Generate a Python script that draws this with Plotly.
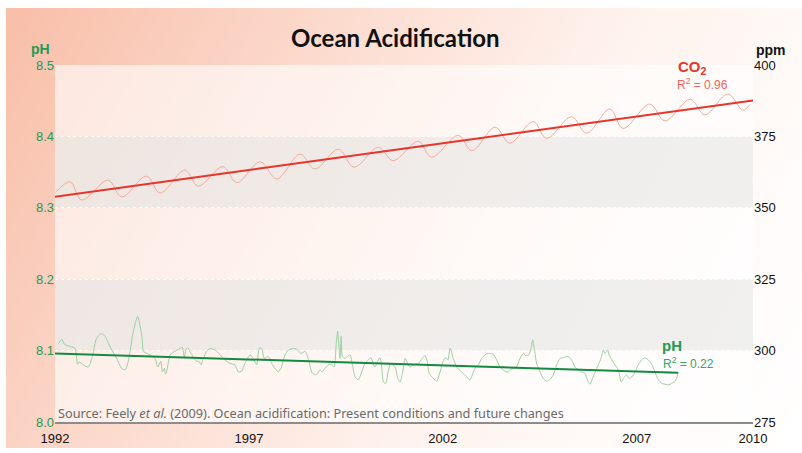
import base64
import plotly.graph_objects as go

# ---------------- data ----------------
co2_years = [1992.03, 1992.39, 1992.69, 1993.37, 1993.72, 1994.36, 1994.71, 1995.35, 1995.69,
             1996.33, 1996.69, 1997.29, 1997.72, 1998.32, 1998.70, 1999.31, 1999.71, 2000.34,
             2000.72, 2001.37, 2001.71, 2002.40, 2002.75, 2003.35, 2003.73, 2004.33, 2004.68,
             2005.32, 2005.71, 2006.31, 2006.65, 2007.34, 2007.73, 2008.38, 2008.76, 2009.35,
             2009.74, 2009.92]
co2_ppm = [355.6, 359.1, 352.7, 359.7, 353.8, 361.1, 355.2, 363.2, 357.6,
           364.4, 358.8, 366.1, 360.1, 368.8, 363.6, 370.5, 364.2, 371.2,
           366.5, 373.3, 367.7, 375.4, 370.0, 378.2, 372.6, 380.2, 374.3,
           381.9, 376.1, 384.6, 377.8, 386.3, 380.4, 388.0, 382.5, 389.9,
           384.2, 386.2]
co2_trend_years = [1992.0, 2010.0]
co2_trend_ppm = [353.9, 387.6]

ph_years = [1992.09, 1992.17, 1992.24, 1992.39, 1992.52, 1992.58, 1992.62, 1992.73, 1992.86, 1992.95,
            1993.07, 1993.19, 1993.29, 1993.46, 1993.59, 1993.72, 1993.81, 1993.89, 1994.02, 1994.13,
            1994.22, 1994.25, 1994.28, 1994.45, 1994.58, 1994.65, 1994.73, 1994.77, 1994.82, 1994.85,
            1994.89, 1994.97, 1995.09, 1995.22, 1995.28, 1995.34, 1995.37, 1995.42, 1995.51, 1995.59,
            1995.65, 1995.71, 1995.77, 1995.80, 1995.91, 1996.00, 1996.13, 1996.26, 1996.38, 1996.51,
            1996.64, 1996.73, 1996.81, 1996.90, 1997.03, 1997.11, 1997.20, 1997.27, 1997.33, 1997.40,
            1997.50, 1997.59, 1997.67, 1997.76, 1997.84, 1997.93, 1998.02, 1998.15, 1998.23, 1998.34,
            1998.45, 1998.53, 1998.62, 1998.70, 1998.77, 1998.83, 1998.89, 1998.96, 1999.05, 1999.13,
            1999.20, 1999.25, 1999.29, 1999.32, 1999.35, 1999.38, 1999.41, 1999.48, 1999.55, 1999.61,
            1999.67, 1999.74, 1999.82, 1999.91, 1999.99, 2000.08, 2000.15, 2000.21, 2000.25, 2000.32,
            2000.38, 2000.42, 2000.47, 2000.53, 2000.60, 2000.66, 2000.77, 2000.84, 2000.90, 2000.96,
            2001.03, 2001.09, 2001.15, 2001.24, 2001.37, 2001.47, 2001.54, 2001.60, 2001.65, 2001.76,
            2001.84, 2001.93, 2002.01, 2002.07, 2002.13, 2002.19, 2002.27, 2002.36, 2002.49, 2002.62,
            2002.70, 2002.79, 2002.85, 2002.92, 2003.00, 2003.09, 2003.17, 2003.30, 2003.39, 2003.48,
            2003.60, 2003.69, 2003.78, 2003.90, 2003.99, 2004.08, 2004.14, 2004.22, 2004.275, 2004.32,
            2004.36, 2004.42, 2004.51, 2004.59, 2004.68, 2004.77, 2004.85, 2004.94, 2005.02, 2005.11,
            2005.19, 2005.28, 2005.34, 2005.41, 2005.50, 2005.58, 2005.67, 2005.75, 2005.80, 2005.86,
            2005.93, 2006.01, 2006.08, 2006.14, 2006.18, 2006.25, 2006.29, 2006.36, 2006.44, 2006.53,
            2006.60, 2006.66, 2006.74, 2006.80, 2006.87, 2006.96, 2007.04, 2007.13, 2007.21, 2007.30,
            2007.39, 2007.47, 2007.56, 2007.65, 2007.73, 2007.82, 2007.90, 2007.99, 2008.03, 2008.07]
ph_values = [8.110, 8.116, 8.109, 8.106, 8.103, 8.081, 8.084, 8.080, 8.077, 8.089,
             8.117, 8.124, 8.120, 8.101, 8.089, 8.075, 8.073, 8.085, 8.127, 8.148,
             8.127, 8.117, 8.099, 8.094, 8.089, 8.077, 8.085, 8.070, 8.075, 8.067,
             8.073, 8.094, 8.099, 8.103, 8.105, 8.089, 8.101, 8.104, 8.096, 8.089,
             8.085, 8.085, 8.080, 8.085, 8.099, 8.103, 8.101, 8.094, 8.087, 8.082,
             8.080, 8.070, 8.071, 8.082, 8.094, 8.089, 8.080, 8.104, 8.103, 8.089,
             8.092, 8.082, 8.075, 8.070, 8.077, 8.094, 8.101, 8.103, 8.102, 8.096,
             8.099, 8.089, 8.070, 8.066, 8.068, 8.073, 8.070, 8.075, 8.080, 8.081,
             8.077, 8.108, 8.127, 8.108, 8.089, 8.120, 8.092, 8.089, 8.092, 8.094,
             8.080, 8.063, 8.059, 8.070, 8.082, 8.087, 8.090, 8.080, 8.077, 8.085,
             8.090, 8.080, 8.056, 8.054, 8.073, 8.082, 8.077, 8.061, 8.056, 8.068,
             8.089, 8.082, 8.077, 8.080, 8.082, 8.089, 8.093, 8.085, 8.068, 8.061,
             8.057, 8.070, 8.085, 8.090, 8.087, 8.103, 8.089, 8.077, 8.070, 8.063,
             8.059, 8.070, 8.077, 8.080, 8.089, 8.094, 8.096, 8.095, 8.087, 8.077,
             8.071, 8.070, 8.075, 8.077, 8.089, 8.096, 8.093, 8.094, 8.103, 8.115,
             8.103, 8.082, 8.070, 8.061, 8.057, 8.060, 8.066, 8.080, 8.089, 8.090,
             8.092, 8.090, 8.085, 8.077, 8.073, 8.070, 8.068, 8.056, 8.053, 8.061,
             8.070, 8.080, 8.089, 8.101, 8.096, 8.101, 8.094, 8.087, 8.080, 8.073,
             8.056, 8.061, 8.066, 8.061, 8.063, 8.070, 8.080, 8.087, 8.090, 8.087,
             8.081, 8.070, 8.059, 8.054, 8.053, 8.052, 8.054, 8.057, 8.061, 8.070]
ph_trend_years = [1992.0, 2008.07]
ph_trend_values = [8.096, 8.069]

x_ticks = [1992, 1997, 2002, 2007, 2010]
ph_ticks = [8.0, 8.1, 8.2, 8.3, 8.4, 8.5]
ppm_ticks = [275, 300, 325, 350, 375, 400]

GREEN = "#239a52"
RED = "#e8342a"

fig = go.Figure()

fig.add_trace(go.Scatter(x=co2_years, y=co2_ppm, yaxis="y2", mode="lines",
                         line=dict(color="#f5ab9b", width=1, shape="spline", smoothing=1.0),
                         hoverinfo="skip", showlegend=False))
fig.add_trace(go.Scatter(x=co2_trend_years, y=co2_trend_ppm, yaxis="y2", mode="lines",
                         line=dict(color=RED, width=2), showlegend=False))
fig.add_trace(go.Scatter(x=ph_years, y=ph_values, mode="lines",
                         line=dict(color="#9ccfa2", width=1, shape="spline", smoothing=0.6),
                         showlegend=False))
fig.add_trace(go.Scatter(x=ph_trend_years, y=ph_trend_values, mode="lines",
                         line=dict(color="#138a40", width=2), showlegend=False))

W, H = 802, 453
# plot area in window pixels: x 55..753, y 65..422
WL, WR, WT, WB = 55, 753, 65, 422
pw, ph = WR - WL, WB - WT


def px_x(p):
    return (p - WL) / pw


def px_y(p):
    return (WB - p) / ph


# background gradient (diagonal, salmon -> white), panel from (6,8) to (802,448)
GX0, GY0, GX1, GY1 = 6, 8, 802, 448
gw, gh = GX1 - GX0, GY1 - GY0
svg = ('<svg xmlns="http://www.w3.org/2000/svg" width="%d" height="%d" viewBox="0 0 %d %d" '
       'preserveAspectRatio="none"><defs><linearGradient id="g" gradientUnits="userSpaceOnUse" '
       'x1="0" y1="0" x2="%d" y2="%d">'
       '<stop offset="0" stop-color="#f8bea8"/>'
       '<stop offset="0.25" stop-color="#fbd4c5"/>'
       '<stop offset="0.42" stop-color="#fde3d9"/>'
       '<stop offset="0.6" stop-color="#fef2ed"/>'
       '<stop offset="0.8" stop-color="#fffaf8"/>'
       '<stop offset="1" stop-color="#ffffff"/>'
       '</linearGradient></defs><rect x="0" y="0" width="%d" height="%d" fill="url(#g)"/></svg>'
       % (gw, gh, gw, gh, gw, gh, gw, gh))
src = "data:image/svg+xml;base64," + base64.b64encode(svg.encode()).decode()

fig.add_layout_image(dict(source=src, xref="paper", yref="paper",
                          x=px_x(GX0), y=px_y(GY0), sizex=gw / pw, sizey=gh / ph,
                          xanchor="left", yanchor="top", sizing="stretch", layer="below"))

# horizontal bands
for i in range(5):
    lo, hi = ph_ticks[i], ph_ticks[i + 1]
    if i % 2 == 0:
        fill = "rgba(255,255,255,0.6)"
    else:
        fill = "rgba(236,236,235,0.8)"
    fig.add_shape(type="rect", xref="paper", yref="y", x0=0, x1=1, y0=lo, y1=hi,
                  fillcolor=fill, line=dict(width=0), layer="below")


def label(text, x, y, size, color, family="Liberation Sans", xanchor="center"):
    return dict(text=text, xref="paper", yref="paper", x=px_x(x), y=px_y(y),
                xanchor=xanchor, yanchor="middle", showarrow=False,
                font=dict(family=family, size=size, color=color))


ann = [
    label("<b>Ocean Acidification</b>", 395, 37, 24, "#111111", family="Lato"),
    label("<b>pH</b>", 40, 49, 14, GREEN),
    label("<b>ppm</b>", 771, 50, 14, "#111111"),
    label("<b>CO<sub>2</sub></b>", 692, 68, 15, RED),
    label("R<sup>2</sup> = 0.96", 702, 84, 12, "#f0665a"),
    label("<b>pH</b>", 672, 345, 15, GREEN),
    label("R<sup>2</sup> = 0.22", 688, 363, 12, "#35a562"),
    label("Source: Feely <i>et al.</i> (2009). Ocean acidification: Present conditions and future changes",
          56, 413, 12.7, "#6a6a6a", family="Noto Sans", xanchor="left"),
]

fig.update_layout(
    width=W, height=H,
    margin=dict(l=WL, r=W - WR, t=WT, b=H - WB, pad=0, autoexpand=False),
    paper_bgcolor="white",
    plot_bgcolor="rgba(0,0,0,0)",
    showlegend=False,
    annotations=ann,
    xaxis=dict(range=[1992, 2010], tickvals=x_ticks, ticktext=[str(v) for v in x_ticks],
               showgrid=False, zeroline=False, showline=True, linecolor="#8c8c8c", linewidth=2,
               ticks="", ticklabelstandoff=3, automargin=False,
               tickfont=dict(family="Liberation Sans", size=13, color="#111111")),
    yaxis=dict(range=[8.0, 8.5], tickvals=ph_ticks, ticktext=["%.1f" % v for v in ph_ticks],
               showgrid=True, gridcolor="rgba(255,255,255,0.9)", griddash="dot", gridwidth=1,
               zeroline=False, showline=False, ticks="", automargin=False,
               tickfont=dict(family="Liberation Sans", size=13, color=GREEN)),
    yaxis2=dict(range=[275, 400], tickvals=ppm_ticks, overlaying="y", side="right",
                showgrid=False, zeroline=False, showline=False, ticks="", automargin=False,
                tickfont=dict(family="Liberation Sans", size=13, color="#111111")),
)

fig.write_html("out.html", config={"displayModeBar": False},
               post_script="document.body.style.margin='0';")
